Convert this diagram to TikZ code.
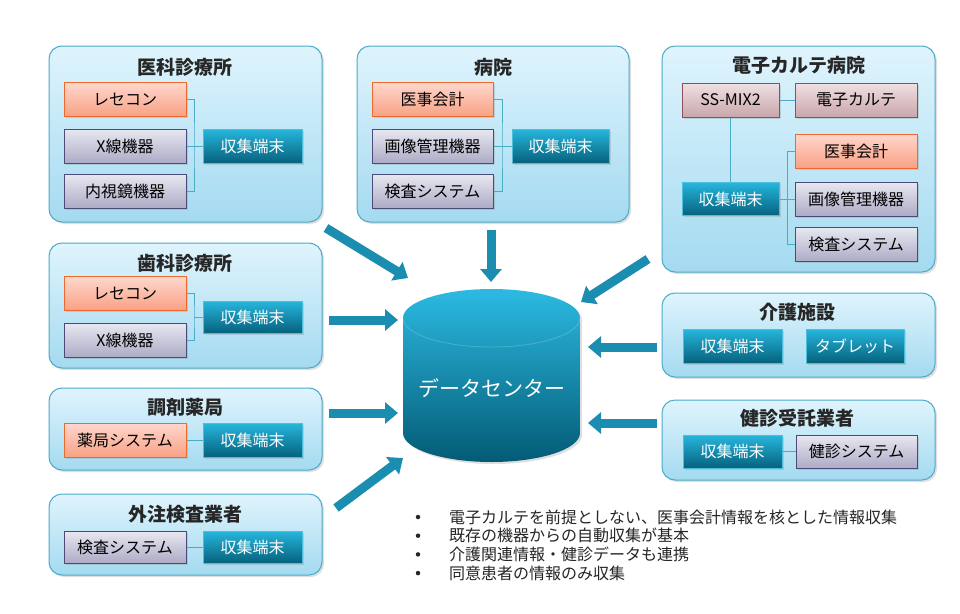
\documentclass[tikz,border=0pt]{standalone}
\usepackage{fontspec}
\setmainfont{Noto Sans CJK JP}
\usetikzlibrary{arrows.meta,shadows}
\definecolor{panelTop}{HTML}{DFF4FD}
\definecolor{panelBot}{HTML}{A4DAF0}
\definecolor{panelLine}{HTML}{4AAAC8}
\definecolor{recTop}{HTML}{FFD7CD}
\definecolor{recBot}{HTML}{F8A184}
\definecolor{recLine}{HTML}{EE6A2C}
\definecolor{devTop}{HTML}{E8E8F1}
\definecolor{devBot}{HTML}{ADABC6}
\definecolor{devLine}{HTML}{4B4A78}
\definecolor{ehrTop}{HTML}{F0E0E1}
\definecolor{ehrBot}{HTML}{C8A6AC}
\definecolor{ehrLine}{HTML}{8E4F5A}
\definecolor{termTop}{HTML}{27B6DD}
\definecolor{termBot}{HTML}{05627D}
\definecolor{termLine}{HTML}{4DBEDC}
\definecolor{linkCol}{HTML}{4BACC6}
\definecolor{flowCol}{HTML}{1A8DB0}
\definecolor{cylTop}{HTML}{2CBAE2}
\definecolor{cylBot}{HTML}{035B75}
\tikzset{
  panel/.style={draw=panelLine, line width=1pt, rounded corners=13pt,
    top color=panelTop, bottom color=panelBot, minimum width=273,
    drop shadow={shadow xshift=2pt, shadow yshift=-2pt, opacity=0.25}},
  title/.style={font=\fontsize{19}{22}\selectfont\bfseries, text=black!85},
  box/.style={line width=1pt, inner sep=0pt, minimum width=122, minimum height=34,
    font=\fontsize{16}{19}\selectfont,
    drop shadow={shadow xshift=1.5pt, shadow yshift=-1.5pt, opacity=0.25}},
  recept/.style={box, draw=recLine, top color=recTop, bottom color=recBot},
  device/.style={box, draw=devLine, top color=devTop, bottom color=devBot},
  ehrbox/.style={box, draw=ehrLine, top color=ehrTop, bottom color=ehrBot},
  term/.style={box, draw=termLine, top color=termTop, bottom color=termBot,
    text=white, minimum width=99},
  link/.style={draw=linkCol, line width=1pt},
  flow/.style={draw=flowCol, line width=9pt, -{Triangle[width=21pt,length=13pt]}},
  note/.style={font=\fontsize{16}{19}\selectfont, text=black!85, inner sep=0pt},
  bullet/.style={circle, fill=black!85, inner sep=0pt, minimum size=4.5pt}
}
\begin{document}
\begin{tikzpicture}[x=1pt, y=-1pt]
\fill[white] (0,0) rectangle (960,613);
\useasboundingbox (0,0) rectangle (960,613);
% Panel: 医科診療所
\node[panel, minimum height=176] (ika) at (185.5,134) {};
\node[title] (ikaTitle) at (185,67) {医科診療所};
\node[recept] (ikaRece) at (125,99.5) {レセコン};
\node[device] (ikaXray) at (125,146) {X線機器};
\node[device] (ikaScope) at (125,191) {内視鏡機器};
\node[term] (ikaTerm) at (252.5,146) {収集端末};
\coordinate (ikaBus) at (194,146);
\draw[link] (ikaRece.east) -| (ikaBus) |- (ikaScope.east);
\draw[link] (ikaXray.east) -- (ikaTerm.west);
% Panel: 病院
\node[panel, minimum width=272, minimum height=176] (byo) at (493,134) {};
\node[title] (byoTitle) at (493,67) {病院};
\node[recept, minimum width=121] (byoAcct) at (432.5,99.5) {医事会計};
\node[device, minimum width=121] (byoImg) at (432.5,146) {画像管理機器};
\node[device, minimum width=121] (byoLab) at (432.5,191) {検査システム};
\node[term, minimum width=97] (byoTerm) at (560.5,146) {収集端末};
\coordinate (byoBus) at (502,146);
\draw[link] (byoAcct.east) -| (byoBus) |- (byoLab.east);
\draw[link] (byoImg.east) -- (byoTerm.west);
% Panel: 電子カルテ病院
\node[panel, minimum height=226] (ehr) at (798.5,159) {};
\node[title] (ehrTitle) at (799,65) {電子カルテ病院};
\node[ehrbox, minimum width=97] (ehrMix) at (730.5,100) {SS-MIX2};
\node[ehrbox] (ehrChart) at (856,100) {電子カルテ};
\node[recept] (ehrAcct) at (856,151) {医事会計};
\node[device] (ehrImg) at (856,199) {画像管理機器};
\node[device] (ehrLab) at (856,244.5) {検査システム};
\node[term, minimum width=97, minimum height=33] (ehrTerm) at (730.5,199) {収集端末};
\coordinate (ehrBus) at (787,199);
\draw[link] (ehrMix.east) -- (ehrChart.west);
\draw[link] (ehrMix.south) -- (ehrTerm.north);
\draw[link] (ehrAcct.west) -| (ehrBus) |- (ehrLab.west);
\draw[link] (ehrTerm.east) -- (ehrImg.west);
% Panel: 歯科診療所
\node[panel, minimum height=125] (shika) at (185.5,305.5) {};
\node[title] (shikaTitle) at (185,263) {歯科診療所};
\node[recept] (shikaRece) at (125,293.5) {レセコン};
\node[device] (shikaXray) at (125,340) {X線機器};
\node[term, minimum height=32] (shikaTerm) at (252.5,317) {収集端末};
\coordinate (shikaBus) at (194,317);
\draw[link] (shikaRece.east) -| (shikaBus) |- (shikaXray.east);
\draw[link] (shikaBus) -- (shikaTerm.west);
% Panel: 調剤薬局
\node[panel, minimum height=82] (yak) at (185.5,429) {};
\node[title] (yakTitle) at (185,407) {調剤薬局};
\node[recept] (yakSys) at (125,440) {薬局システム};
\node[term] (yakTerm) at (252.5,440) {収集端末};
\draw[link] (yakSys.east) -- (yakTerm.west);
% Panel: 外注検査業者
\node[panel, minimum height=81] (gai) at (185.5,534.5) {};
\node[title] (gaiTitle) at (185,514) {外注検査業者};
\node[device, minimum height=32] (gaiLab) at (125,547) {検査システム};
\node[term, minimum height=32] (gaiTerm) at (252.5,547) {収集端末};
\draw[link] (gaiLab.east) -- (gaiTerm.west);
% Panel: 介護施設
\node[panel, minimum height=84] (kaigo) at (798.5,335) {};
\node[title] (kaigoTitle) at (797,312) {介護施設};
\node[term] (kaigoTerm) at (732.5,346) {収集端末};
\node[term, minimum width=98] (kaigoTab) at (855,346) {タブレット};
% Panel: 健診受託業者
\node[panel, minimum height=80] (ken) at (798.5,440) {};
\node[title] (kenTitle) at (797,418) {健診受託業者};
\node[term, minimum height=33] (kenTerm) at (732.5,451.5) {収集端末};
\node[device, minimum width=121, minimum height=33] (kenSys) at (856.5,451.5) {健診システム};
\draw[link] (kenTerm.east) -- (kenSys.west);
% Data centre cylinder
\path[top color=cylTop, bottom color=cylBot,
  drop shadow={shadow xshift=2pt, shadow yshift=-2pt, opacity=0.25}]
  (403,318) -- (403,433) arc[start angle=180, end angle=360, x radius=88.5pt, y radius=29pt]
  -- (580,318) arc[start angle=0, end angle=180, x radius=88.5pt, y radius=29pt] -- cycle;
\draw[white, opacity=0.2, line width=0.8pt]
  (403,318) arc[start angle=180, end angle=360, x radius=88.5pt, y radius=29pt];
\node[font=\fontsize{21}{25}\selectfont, text=white] (dc) at (492,388) {データセンター};
% Flows into the data centre
\coordinate (ikaOut) at (326,228);  \coordinate (dcIn1) at (408,278);
\coordinate (byoOut) at (491,230);  \coordinate (dcIn2) at (491,282);
\coordinate (ehrOut) at (648,259);  \coordinate (dcIn3) at (581,302);
\coordinate (shikaOut) at (329,320); \coordinate (dcIn4) at (398,320);
\coordinate (yakOut) at (329,413);  \coordinate (dcIn5) at (398,413);
\coordinate (gaiOut) at (336,508);  \coordinate (dcIn6) at (403,458);
\coordinate (kaigoOut) at (657,347); \coordinate (dcIn7) at (588,347);
\coordinate (kenOut) at (657,423);  \coordinate (dcIn8) at (588,423);
\foreach \s/\t in {ikaOut/dcIn1, byoOut/dcIn2, ehrOut/dcIn3, shikaOut/dcIn4,
                   yakOut/dcIn5, gaiOut/dcIn6, kaigoOut/dcIn7, kenOut/dcIn8}
  \draw[flow] (\s) -- (\t);
% Notes
\foreach \i/\t in {1/{電子カルテを前提としない、医事会計情報を核とした情報収集},
                   2/{既存の機器からの自動収集が基本},
                   3/{介護関連情報・健診データも連携},
                   4/{同意患者の情報のみ収集}} {
  \node[note, anchor=west] (note\i) at (449,{498.3+18.7*\i}) {\t};
  \node[bullet] (dot\i) at (418,{498.3+18.7*\i}) {};
}
\end{tikzpicture}
\end{document}
